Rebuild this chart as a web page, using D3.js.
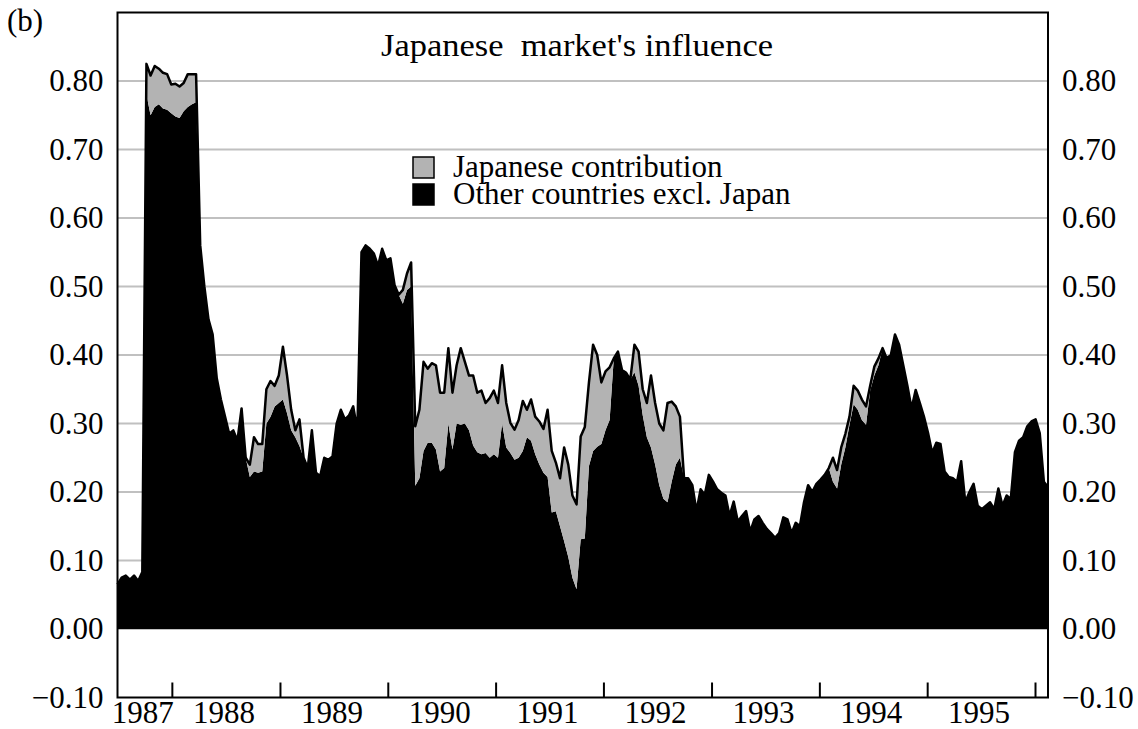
<!DOCTYPE html>
<html lang="en">
<head>
<meta charset="UTF-8">
<title>Japanese market's influence</title>
<script src="https://d3js.org/d3.v7.min.js"></script>
<style>
  body { margin: 0; background: #fff; }
  text { font-family: "Liberation Serif", "Times New Roman", serif; fill: #000; }
</style>
</head>
<body>
<div id="chart"></div>
<script>

// Biweekly observations, starting July 1987
const startDate = new Date(1987, 6, 1);
const stepDays = 14;

// Other countries excl. Japan (black area)
const otherCountries = [
  .065, .075, .078, .072, .078, .070, .083, .780, .750, .762,
  .766, .760, .758, .753, .748, .746, .756, .762, .766, .769,
  .560, .500, .452, .430, .366, .335, .310, .285, .290, .275,
  .322, .250, .222, .230, .228, .230, .300, .310, .325, .330,
  .335, .315, .290, .280, .267, .250, .235, .290, .228, .223,
  .250, .247, .252, .300, .320, .306, .312, .325, .290, .550,
  .560, .555, .548, .530, .555, .538, .541, .502, .488, .475,
  .495, .500, .209, .220, .260, .272, .272, .262, .230, .235,
  .300, .262, .300, .298, .300, .290, .268, .258, .255, .257,
  .250, .255, .250, .300, .265, .257, .247, .250, .260, .280,
  .275, .255, .240, .228, .222, .170, .172, .150, .128, .105,
  .075, .058, .131, .132, .238, .260, .266, .270, .290, .305,
  .395, .405, .378, .374, .364, .375, .355, .312, .280, .265,
  .240, .210, .190, .185, .215, .240, .250, .220, .220, .210,
  .172, .204, .196, .225, .215, .204, .199, .195, .165, .186,
  .157, .165, .172, .142, .160, .165, .155, .146, .140, .133,
  .140, .163, .160, .140, .155, .150, .185, .210, .200, .212,
  .218, .225, .235, .215, .205, .240, .265, .298, .328, .320,
  .305, .298, .348, .370, .385, .410, .395, .400, .430, .415,
  .385, .355, .322, .349, .330, .310, .286, .257, .272, .270,
  .230, .222, .220, .215, .245, .185, .200, .212, .180, .175,
  .180, .185, .175, .205, .180, .195, .190, .258, .275, .280,
  .296, .303, .306, .286, .215, .207
];

// Japanese contribution (grey area, stacked on top)
const japanContribution = [
  0, 0, 0, 0, 0, 0, 0, .045, .058, .060,
  .052, .052, .052, .042, .048, .046, .041, .048, .044, .041,
  0, 0, 0, 0, 0, 0, 0, 0, 0, 0,
  0, 0, .018, .050, .042, .040, .050, .052, .030, .040,
  .077, .055, .030, .010, .039, 0, 0, 0, 0, 0,
  0, 0, 0, 0, 0, 0, 0, 0, 0, 0,
  0, 0, 0, 0, 0, 0, 0, 0, 0, .020,
  .024, .035, .087, .100, .130, .108, .116, .123, .115, .110,
  .110, .083, .085, .112, .090, .080, .102, .087, .093, .073,
  .087, .093, .080, .085, .065, .044, .044, .055, .073, .040,
  .060, .055, .063, .064, .098, .090, .071, .070, .137, .135,
  .120, .124, .150, .163, .122, .155, .134, .090, .086, .077,
  0, 0, 0, 0, 0, .040, .050, .038, .050, .105,
  .090, .090, .100, .145, .117, .085, .060, 0, 0, 0,
  0, 0, 0, 0, 0, 0, 0, 0, 0, 0,
  0, 0, 0, 0, 0, 0, 0, 0, 0, 0,
  0, 0, 0, 0, 0, 0, 0, 0, 0, 0,
  0, 0, 0, .035, .027, .025, .020, .012, .027, .028,
  .030, .027, .007, .013, .010, 0, 0, 0, 0, 0,
  0, 0, 0, 0, 0, 0, 0, 0, 0, 0,
  0, 0, 0, 0, 0, 0, 0, 0, 0, 0,
  0, 0, 0, 0, 0, 0, 0, 0, 0, 0,
  0, 0, 0, 0, 0, 0
];

const yTicks = [-0.1, 0, 0.1, 0.2, 0.3, 0.4, 0.5, 0.6, 0.7, 0.8];
const gridValues = [0, 0.1, 0.2, 0.3, 0.4, 0.5, 0.6, 0.7, 0.8];
const yearTicks = [1988, 1989, 1990, 1991, 1992, 1993, 1994, 1995, 1996];
const yearLabels = [1987, 1988, 1989, 1990, 1991, 1992, 1993, 1994, 1995];
const legendItems = [
  {label: "Japanese contribution", color: "#b3b3b3"},
  {label: "Other countries excl. Japan", color: "#000"}
];

const width = 1138;
const height = 729;
const margin = {top: 12.5, right: 90, bottom: 31.5, left: 117.5};
const fontSize = 31;

const data = otherCountries.map((v, i) => ({
  date: d3.timeDay.offset(startDate, i * stepDays),
  other: v,
  japan: japanContribution[i]
}));

const svg = d3.select("#chart").append("svg")
    .attr("width", width)
    .attr("height", height);

const x = d3.scaleTime()
    .domain(d3.extent(data, d => d.date))
    .range([margin.left, width - margin.right]);

const y = d3.scaleLinear()
    .domain([-0.1, 0.9])
    .range([height - margin.bottom, margin.top]);

// horizontal grid lines
svg.append("g")
    .selectAll("line")
    .data(gridValues)
    .join("line")
    .attr("x1", margin.left)
    .attr("x2", width - margin.right)
    .attr("y1", d => y(d))
    .attr("y2", d => y(d))
    .attr("stroke", "#c0c0c0")
    .attr("stroke-width", 2);

// stacked areas
const stack = d3.stack().keys(["other", "japan"]);
const series = stack(data);

const area = d3.area()
    .x(d => x(d.data.date))
    .y0(d => y(d[0]))
    .y1(d => y(d[1]));

svg.append("g")
    .selectAll("path")
    .data(series)
    .join("path")
    .attr("fill", (d, i) => i === 0 ? "#000" : "#b3b3b3")
    .attr("d", area);

// outline on the total
const totalLine = d3.line()
    .x(d => x(d.date))
    .y(d => y(d.other + d.japan));

svg.append("path")
    .datum(data)
    .attr("fill", "none")
    .attr("stroke", "#000")
    .attr("stroke-width", 2.5)
    .attr("stroke-linejoin", "round")
    .attr("d", totalLine);

// frame
svg.append("rect")
    .attr("x", margin.left)
    .attr("y", margin.top)
    .attr("width", width - margin.right - margin.left)
    .attr("height", height - margin.bottom - margin.top)
    .attr("fill", "none")
    .attr("stroke", "#000")
    .attr("stroke-width", 2);

// year tick marks (pointing up from the bottom axis)
const xAxis = d3.axisBottom(x)
    .tickValues(yearTicks.map(yr => new Date(yr, 0, 1)))
    .tickSize(-15)
    .tickFormat("");

svg.append("g")
    .attr("transform", `translate(0,${height - margin.bottom})`)
    .call(xAxis)
    .call(g => g.select(".domain").remove())
    .call(g => g.selectAll(".tick line").attr("stroke", "#000").attr("stroke-width", 2));

// year labels centred in each year span
const [d0, d1] = x.domain();
svg.append("g")
    .selectAll("text")
    .data(yearLabels)
    .join("text")
    .attr("x", yr => {
      const a = Math.max(+d0, +new Date(yr, 0, 1));
      const b = Math.min(+d1, +new Date(yr + 1, 0, 1));
      return (x(new Date(a)) + x(new Date(b))) / 2 - 2;
    })
    .attr("y", height - 6)
    .attr("text-anchor", "middle")
    .attr("font-size", fontSize)
    .text(d => d);

// y labels on both sides
const fmt = d3.format(".2f");
svg.append("g")
    .selectAll("text")
    .data(yTicks)
    .join("text")
    .attr("x", margin.left - 14)
    .attr("y", d => y(d))
    .attr("dy", "0.33em")
    .attr("text-anchor", "end")
    .attr("font-size", fontSize)
    .text(fmt);

svg.append("g")
    .selectAll("text")
    .data(yTicks)
    .join("text")
    .attr("x", width - margin.right + 14)
    .attr("y", d => y(d))
    .attr("dy", "0.33em")
    .attr("text-anchor", "start")
    .attr("font-size", fontSize)
    .text(fmt);

// title and panel letter
svg.append("text")
    .attr("x", 577)
    .attr("y", 56)
    .attr("text-anchor", "middle")
    .attr("font-size", 32)
    .attr("textLength", 392)
    .attr("lengthAdjust", "spacingAndGlyphs")
    .style("white-space", "pre")
    .text("Japanese  market's influence");

svg.append("text")
    .attr("x", 7)
    .attr("y", 31)
    .attr("font-size", fontSize)
    .text("(b)");

// legend
const legend = svg.append("g")
    .attr("transform", "translate(413,157)")
    .selectAll("g")
    .data(legendItems)
    .join("g")
    .attr("transform", (d, i) => `translate(0,${i * 27})`);

legend.append("rect")
    .attr("width", 21)
    .attr("height", 21)
    .attr("fill", d => d.color)
    .attr("stroke", "#000")
    .attr("stroke-width", 1.5);

legend.append("text")
    .attr("x", 40)
    .attr("y", 20)
    .attr("font-size", fontSize)
    .text(d => d.label);

</script>
</body>
</html>
